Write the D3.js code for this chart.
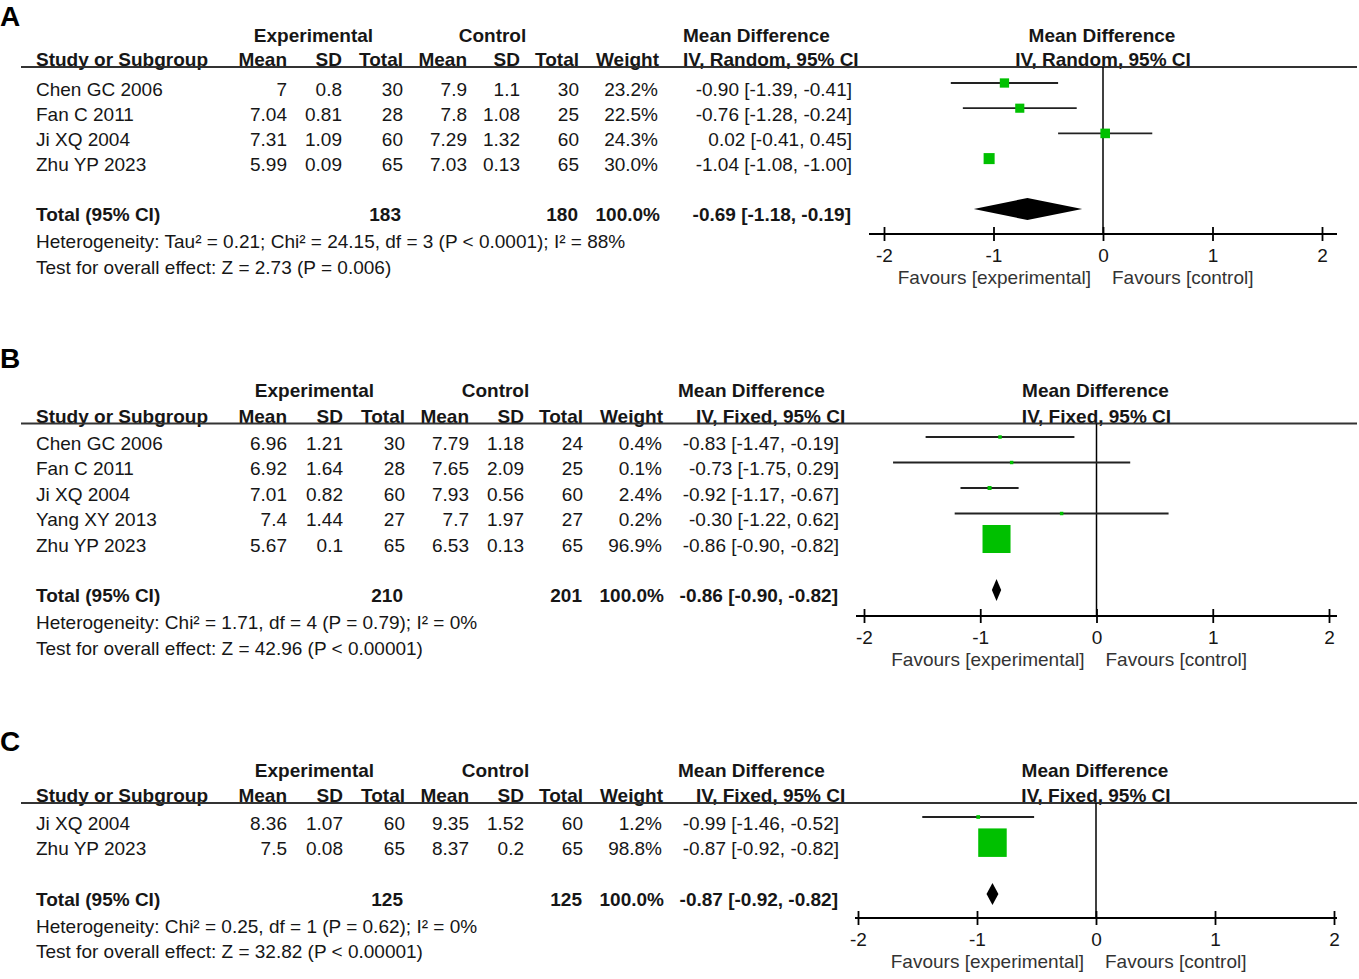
<!DOCTYPE html>
<html>
<head>
<meta charset="utf-8">
<script src="https://cdn.jsdelivr.net/npm/d3@7"></script>
<style>
  body { margin: 0; background: #fff; }
  svg { display: block; font-family: 'Liberation Sans', Arial, sans-serif; }
</style>
</head>
<body>
<div id="canvas"></div>
<script>
// ---- data ----
// per study: [mean, sd, total]
const studiesA = ['Chen GC 2006', 'Fan C 2011', 'Ji XQ 2004', 'Zhu YP 2023'];
const expA = [[7, 0.8, 30], [7.04, 0.81, 28], [7.31, 1.09, 60], [5.99, 0.09, 65]];
const ctlA = [[7.9, 1.1, 30], [7.8, 1.08, 25], [7.29, 1.32, 60], [7.03, 0.13, 65]];
const weightA = [23.2, 22.5, 24.3, 30.0];
const mdA = [[-0.90, -1.39, -0.41], [-0.76, -1.28, -0.24], [0.02, -0.41, 0.45], [-1.04, -1.08, -1.00]];
const totalA = [183, 180, -0.69, -1.18, -0.19];
const hetA = 'Heterogeneity: Tau² = 0.21; Chi² = 24.15, df = 3 (P < 0.0001); I² = 88%';
const testA = 'Test for overall effect: Z = 2.73 (P = 0.006)';

const studiesB = ['Chen GC 2006', 'Fan C 2011', 'Ji XQ 2004', 'Yang XY 2013', 'Zhu YP 2023'];
const expB = [[6.96, 1.21, 30], [6.92, 1.64, 28], [7.01, 0.82, 60], [7.4, 1.44, 27], [5.67, 0.1, 65]];
const ctlB = [[7.79, 1.18, 24], [7.65, 2.09, 25], [7.93, 0.56, 60], [7.7, 1.97, 27], [6.53, 0.13, 65]];
const weightB = [0.4, 0.1, 2.4, 0.2, 96.9];
const mdB = [[-0.83, -1.47, -0.19], [-0.73, -1.75, 0.29], [-0.92, -1.17, -0.67], [-0.30, -1.22, 0.62], [-0.86, -0.90, -0.82]];
const totalB = [210, 201, -0.86, -0.90, -0.82];
const hetB = 'Heterogeneity: Chi² = 1.71, df = 4 (P = 0.79); I² = 0%';
const testB = 'Test for overall effect: Z = 42.96 (P < 0.00001)';

const studiesC = ['Ji XQ 2004', 'Zhu YP 2023'];
const expC = [[8.36, 1.07, 60], [7.5, 0.08, 65]];
const ctlC = [[9.35, 1.52, 60], [8.37, 0.2, 65]];
const weightC = [1.2, 98.8];
const mdC = [[-0.99, -1.46, -0.52], [-0.87, -0.92, -0.82]];
const totalC = [125, 125, -0.87, -0.92, -0.82];
const hetC = 'Heterogeneity: Chi² = 0.25, df = 1 (P = 0.62); I² = 0%';
const testC = 'Test for overall effect: Z = 32.82 (P < 0.00001)';

const ticks = [-2, -1, 0, 1, 2];
const colHeads = ['Mean', 'SD', 'Total', 'Mean', 'SD', 'Total', 'Weight'];

// ---- layout ----
const W = 1359, H = 979;
const colsA = [287, 342, 403, 467, 520, 579, 658, 852];
const colsB = [287, 343, 405, 469, 524, 583, 662, 839];

const panels = [
	{ label: 'A', studies: studiesA, exp: expA, ctl: ctlA, weight: weightA, md: mdA, total: totalA, het: hetA, test: testA,
	  method: 'IV, Random, 95% CI', cols: colsA, expX: 313.5, ctlX: 492.5, mdHeadX: 683, ivHeadX: 683,
	  labelY: 26, groupY: 42, lineY: 67, first: 83, last: 209, hetY: 248, testY: 274,
	  axisY: 234, xMin: 884, xMax: 1322, ext: 15 },
	{ label: 'B', studies: studiesB, exp: expB, ctl: ctlB, weight: weightB, md: mdB, total: totalB, het: hetB, test: testB,
	  method: 'IV, Fixed, 95% CI', cols: colsB, expX: 314.5, ctlX: 495.5, mdHeadX: 678, ivHeadX: 696,
	  labelY: 368, groupY: 397, lineY: 423.5, first: 437, last: 590, hetY: 629, testY: 655,
	  axisY: 616, xMin: 864, xMax: 1329, ext: 8 },
	{ label: 'C', studies: studiesC, exp: expC, ctl: ctlC, weight: weightC, md: mdC, total: totalC, het: hetC, test: testC,
	  method: 'IV, Fixed, 95% CI', cols: colsB, expX: 314.5, ctlX: 495.5, mdHeadX: 678, ivHeadX: 696,
	  labelY: 751, groupY: 777, lineY: 803, first: 817, last: 894, hetY: 933, testY: 958,
	  axisY: 918, xMin: 858, xMax: 1334, ext: 3 }
];

const ink = '#161616';
const green = '#00c000';
const fs = 19;

const svg = d3.select('#canvas').append('svg')
	.attr('width', W)
	.attr('height', H)
	.attr('viewBox', [0, 0, W, H]);
svg.append('rect').attr('width', W).attr('height', H).attr('fill', '#fff');

panels.forEach(p => drawPanel(p));

function drawPanel (p) {
	const g = svg.append('g').attr('class', `panel-${p.label}`);
	const x = d3.scaleLinear().domain([-2, 2]).range([p.xMin, p.xMax]);
	const y = d3.scalePoint().domain([...p.studies, '__gap', '__total']).range([p.first, p.last]);
	const boxSize = d3.scaleLinear().domain([0, 100]).range([3.4, 28.8]);
	const x0 = x(0);

	const txt = (sel, s, xx, yy, anchor, bold, size) => sel.append('text')
		.attr('x', xx).attr('y', yy)
		.attr('text-anchor', anchor || 'start')
		.attr('font-size', size || fs)
		.attr('font-weight', bold ? 'bold' : 'normal')
		.attr('fill', ink)
		.text(s);

	// panel letter
	txt(g, p.label, 0, p.labelY, 'start', true, 28).attr('fill', '#000');

	// group headers
	txt(g, 'Experimental', p.expX, p.groupY, 'middle', true);
	txt(g, 'Control', p.ctlX, p.groupY, 'middle', true);
	txt(g, 'Mean Difference', p.mdHeadX, p.groupY, 'start', true);
	txt(g, 'Mean Difference', x0 - 1, p.groupY, 'middle', true);

	// column headers
	const hy = p.lineY - 1;
	txt(g, 'Study or Subgroup', 36, hy, 'start', true);
	colHeads.forEach((h, i) => txt(g, h, p.cols[i] + (i === 6 ? 1 : 0), hy, 'end', true));
	txt(g, p.method, p.ivHeadX, hy, 'start', true);
	txt(g, p.method, x0, hy, 'middle', true);

	g.append('line')
		.attr('x1', 21).attr('x2', 1357)
		.attr('y1', p.lineY).attr('y2', p.lineY)
		.attr('stroke', '#333').attr('stroke-width', 2);

	// study rows (text)
	const rows = g.selectAll('g.row')
		.data(p.studies.map((s, i) => ({ s, e: p.exp[i], c: p.ctl[i], w: p.weight[i], m: p.md[i] })))
		.join('g').attr('class', 'row');

	rows.each(function (d) {
		const r = d3.select(this);
		const ty = y(d.s) + 12.5;
		const vals = [d.e[0], d.e[1], d.e[2], d.c[0], d.c[1], d.c[2]].map(String);
		vals.push(d.w.toFixed(1) + '%');
		vals.push(`${d.m[0].toFixed(2)} [${d.m[1].toFixed(2)}, ${d.m[2].toFixed(2)}]`);
		txt(r, d.s, 36, ty);
		vals.forEach((v, i) => txt(r, v, p.cols[i], ty, 'end'));
	});

	// total row
	const tyT = y('__total') + 12;
	const t = p.total;
	txt(g, 'Total (95% CI)', 36, tyT, 'start', true);
	txt(g, String(t[0]), p.cols[2] - 2, tyT, 'end', true);
	txt(g, String(t[1]), p.cols[5] - 1, tyT, 'end', true);
	txt(g, '100.0%', p.cols[6] + 2, tyT, 'end', true);
	txt(g, `${t[2].toFixed(2)} [${t[3].toFixed(2)}, ${t[4].toFixed(2)}]`, p.cols[7] - 1, tyT, 'end', true);
	txt(g, p.het, 36, p.hetY);
	txt(g, p.test, 36, p.testY);

	// zero line
	g.append('line')
		.attr('x1', x0).attr('x2', x0)
		.attr('y1', p.lineY).attr('y2', p.axisY)
		.attr('stroke', '#000').attr('stroke-width', 1.5);

	// CI lines and boxes
	const fx = g.append('g').attr('class', 'forest');
	fx.selectAll('line.ci')
		.data(p.studies.map((s, i) => ({ s, m: p.md[i] })))
		.join('line').attr('class', 'ci')
		.attr('x1', d => x(d.m[1])).attr('x2', d => x(d.m[2]))
		.attr('y1', d => y(d.s)).attr('y2', d => y(d.s))
		.attr('stroke', '#222').attr('stroke-width', 1.8);
	fx.selectAll('rect.box')
		.data(p.studies.map((s, i) => ({ s, m: p.md[i], w: p.weight[i] })))
		.join('rect').attr('class', 'box')
		.attr('x', d => x(d.m[0]) - boxSize(d.w) / 2)
		.attr('y', d => y(d.s) - boxSize(d.w) / 2)
		.attr('width', d => boxSize(d.w))
		.attr('height', d => boxSize(d.w))
		.attr('fill', green);

	// pooled diamond
	const dy = y('__total');
	fx.append('path')
		.attr('d', `M${x(t[3])},${dy}L${x(t[2])},${dy - 11}L${x(t[4])},${dy}L${x(t[2])},${dy + 11}Z`)
		.attr('fill', '#000');

	// axis
	const axis = g.append('g')
		.attr('transform', `translate(0,${p.axisY})`)
		.call(d3.axisBottom(x).tickValues(ticks).tickFormat(d => String(d)).tickSizeOuter(0).tickSize(7));
	axis.select('.domain').remove();
	axis.selectAll('.tick line').attr('y1', -7).attr('y2', 7).attr('stroke', '#000').attr('stroke-width', 1.8);
	axis.selectAll('.tick text')
		.attr('y', 28).attr('dy', 0)
		.attr('font-size', fs)
		.attr('font-family', "'Liberation Sans', Arial, sans-serif")
		.attr('fill', ink);
	axis.append('line')
		.attr('x1', p.xMin - p.ext).attr('x2', p.xMax + p.ext)
		.attr('stroke', '#000').attr('stroke-width', 2);

	txt(g, 'Favours [experimental]', x0 - 12, p.axisY + 50, 'end').attr('fill', '#333');
	txt(g, 'Favours [control]', x0 + 9, p.axisY + 50, 'start').attr('fill', '#333');
}
</script>
</body>
</html>
